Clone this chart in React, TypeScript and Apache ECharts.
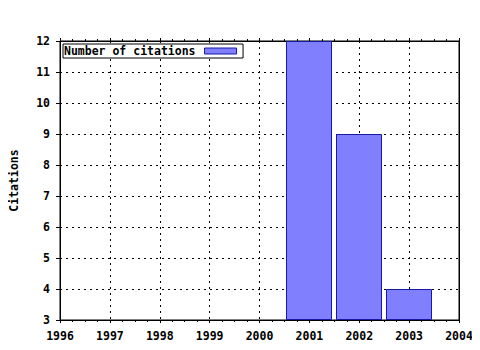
import React, { useEffect, useRef } from "react";
import * as echarts from "echarts";

const years = [2001, 2002, 2003];
const citations = [12, 9, 4];
const xMin = 1996;
const xMax = 2004;
const yMin = 3;
const yMax = 12;
const seriesName = "Number of citations";
const yAxisTitle = "Citations";

const FONT = "DejaVu Sans Mono";
const FILL = "#8080ff";
const STROKE = "#1818a8";

export default function App() {
  const ref = useRef<HTMLDivElement>(null);
  useEffect(() => {
    if (!ref.current) return;
    const chart = echarts.init(ref.current, undefined, { renderer: "svg" });
    const data = years.map((y, i) => [y, citations[i]]);
    const labelStyle = {
      fontFamily: FONT,
      fontWeight: "bold" as const,
      fontSize: 11.5,
      color: "#000",
    };
    chart.setOption({
      animation: false,
      backgroundColor: "#fff",
      grid: {
        left: 58,
        right: 21,
        top: 41,
        bottom: 30,
        show: true,
        borderColor: "#000",
        borderWidth: 1,
        backgroundColor: "transparent",
      },
      legend: {
        show: true,
        left: 63,
        top: 44,
        orient: "horizontal",
        align: "right",
        icon: "rect",
        itemWidth: 32,
        itemHeight: 6,
        padding: [1, 6, 1, 1],
        borderColor: "#000",
        borderWidth: 1,
        borderRadius: 0,
        backgroundColor: "#fff",
        textStyle: { ...labelStyle, padding: [0, 4, 0, 0] },
        data: [
          {
            name: seriesName,
            itemStyle: { color: FILL, borderColor: STROKE, borderWidth: 1 },
          },
        ],
      },
      xAxis: [
        {
          type: "value",
          min: xMin,
          max: xMax,
          interval: 1,
          axisLine: { show: true, lineStyle: { color: "#000" } },
          axisTick: { show: true, inside: false, length: 3, lineStyle: { color: "#000" } },
          minorTick: { show: true, splitNumber: 4, length: 2, lineStyle: { color: "#000" } },
          axisLabel: { ...labelStyle, margin: 10, formatter: (v: number) => String(v) },
          splitLine: {
            show: true,
            lineStyle: { color: "#000", type: [2, 4], width: 1 },
          },
        },
        {
          type: "value",
          position: "top",
          min: xMin,
          max: xMax,
          interval: 1,
          axisLine: { show: true, lineStyle: { color: "#000" } },
          axisTick: { show: true, inside: false, length: 3, lineStyle: { color: "#000" } },
          minorTick: { show: true, splitNumber: 4, length: 2, lineStyle: { color: "#000" } },
          axisLabel: { show: false },
          splitLine: { show: false },
        },
      ],
      yAxis: [
        {
          type: "value",
          min: yMin,
          max: yMax,
          interval: 1,
          name: yAxisTitle,
          nameLocation: "middle",
          nameGap: 40,
          nameRotate: 90,
          nameTextStyle: { ...labelStyle },
          axisLine: { show: true, lineStyle: { color: "#000" } },
          axisTick: { show: true, inside: false, length: 4, lineStyle: { color: "#000" } },
          axisLabel: { ...labelStyle, margin: 10 },
          splitLine: {
            show: true,
            lineStyle: { color: "#000", type: [2, 4], width: 1 },
          },
        },
        {
          type: "value",
          position: "right",
          min: yMin,
          max: yMax,
          interval: 1,
          axisLine: { show: true, lineStyle: { color: "#000" } },
          axisTick: { show: false },
          axisLabel: { show: false },
          splitLine: { show: false },
        },
      ],
      series: [
        {
          name: seriesName,
          type: "custom",
          xAxisIndex: 0,
          yAxisIndex: 0,
          itemStyle: { color: FILL, borderColor: STROKE, borderWidth: 1 },
          renderItem: (params: any, api: any) => {
            const x = api.value(0);
            const y = api.value(1);
            const p0 = api.coord([x - 0.45, y]);
            const p1 = api.coord([x + 0.45, yMin]);
            return {
              type: "rect",
              shape: {
                x: Math.round(p0[0]) - 0.5,
                y: Math.round(p0[1]) + 0.5,
                width: Math.round(p1[0] - p0[0]),
                height: Math.round(p1[1] - p0[1]) - 1,
              },
              style: { fill: FILL, stroke: STROKE, lineWidth: 1 },
            };
          },
          data,
          z: 3,
        },
      ],
    });
    return () => chart.dispose();
  }, []);
  return <div ref={ref} style={{ width: 480, height: 350, margin: -8 }} />;
}
